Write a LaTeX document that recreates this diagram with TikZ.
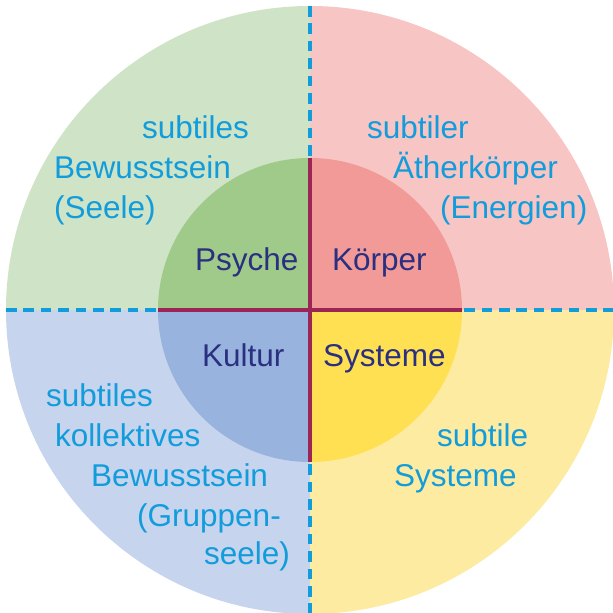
\documentclass[tikz,border=0pt]{standalone}
\usepackage{fontspec}
\setmainfont{Liberation Sans}
\definecolor{outgreen}{HTML}{CFE3C6}
\definecolor{outpink}{HTML}{F7C5C3}
\definecolor{outblue}{HTML}{C6D4ED}
\definecolor{outyellow}{HTML}{FEEBA2}
\definecolor{ingreen}{HTML}{9FCA8A}
\definecolor{inpink}{HTML}{F29A98}
\definecolor{inblue}{HTML}{98B3DE}
\definecolor{inyellow}{HTML}{FFE052}
\definecolor{crimson}{HTML}{9B2656}
\definecolor{navy}{HTML}{2A2F7F}
\definecolor{cyantext}{HTML}{119CDC}
\tikzset{
  outertext/.style={anchor=base west, inner sep=0pt, text=cyantext,
    font=\fontsize{31.5}{38}\selectfont},
  innertext/.style={anchor=base west, inner sep=0pt, text=navy,
    font=\fontsize{31.5}{38}\selectfont},
  divider/.style={crimson, line width=3.5pt},
  boundary/.style={cyantext, line width=3.5pt, dash pattern=on 10.7pt off 6.7pt}
}
\begin{document}
\begin{tikzpicture}[x=1pt,y=1pt]
\useasboundingbox (-310,-303) rectangle (303,310);
\def\Ro{304}
\def\Ri{152}
% outer ring quadrants
\fill[outpink]   (0,0) -- (\Ro,0) arc (0:90:\Ro) -- cycle;
\fill[outgreen]  (0,0) -- (0,\Ro) arc (90:180:\Ro) -- cycle;
\fill[outblue]   (0,0) -- (-\Ro,0) arc (180:270:\Ro) -- cycle;
\fill[outyellow] (0,0) -- (0,-\Ro) arc (270:360:\Ro) -- cycle;
% inner disc quadrants
\fill[inpink]   (0,0) -- (\Ri,0) arc (0:90:\Ri) -- cycle;
\fill[ingreen]  (0,0) -- (0,\Ri) arc (90:180:\Ri) -- cycle;
\fill[inblue]   (0,0) -- (-\Ri,0) arc (180:270:\Ri) -- cycle;
\fill[inyellow] (0,0) -- (0,-\Ri) arc (270:360:\Ri) -- cycle;
% dividing lines
\coordinate (otop) at (0,\Ro);   \coordinate (itop) at (0,\Ri);
\coordinate (obot) at (0,-\Ro);  \coordinate (ibot) at (0,-\Ri);
\coordinate (olft) at (-\Ro,0);  \coordinate (ilft) at (-\Ri,0);
\coordinate (orgt) at (\Ro,0);   \coordinate (irgt) at (\Ri,0);
\draw[boundary] (otop) -- (itop);
\draw[boundary] (obot) -- (ibot);
\draw[boundary] (olft) -- (ilft);
\draw[boundary] (orgt) -- (irgt);
\draw[divider] (itop) -- (ibot);
\draw[divider] (ilft) -- (irgt);
% inner labels
\node[innertext] (psyche) at (-115,39) {Psyche};
\node[innertext] (koerper) at (22,39) {Körper};
\node[innertext] (kultur) at (-108,-56) {Kultur};
\node[innertext] (systeme) at (13,-56) {Systeme};
% upper left
\node[outertext] (g1) at (-168,171) {subtiles};
\node[outertext] (g2) at (-256,131) {Bewusstsein};
\node[outertext] (g3) at (-256,91) {(Seele)};
% upper right
\node[outertext] (p1) at (57,171) {subtiler};
\node[outertext] (p2) at (83,131) {Ätherkörper};
\node[outertext] (p3) at (130,91) {(Energien)};
% lower left
\node[outertext] (b1) at (-264,-96) {subtiles};
\node[outertext] (b2) at (-255,-136) {kollektives};
\node[outertext] (b3) at (-219,-176) {Bewusstsein};
\node[outertext] (b4) at (-173,-216) {(Gruppen-};
\node[outertext] (b5) at (-106,-254) {seele)};
% lower right
\node[outertext] (y1) at (127,-136) {subtile};
\node[outertext] (y2) at (84,-176) {Systeme};
\end{tikzpicture}
\end{document}
